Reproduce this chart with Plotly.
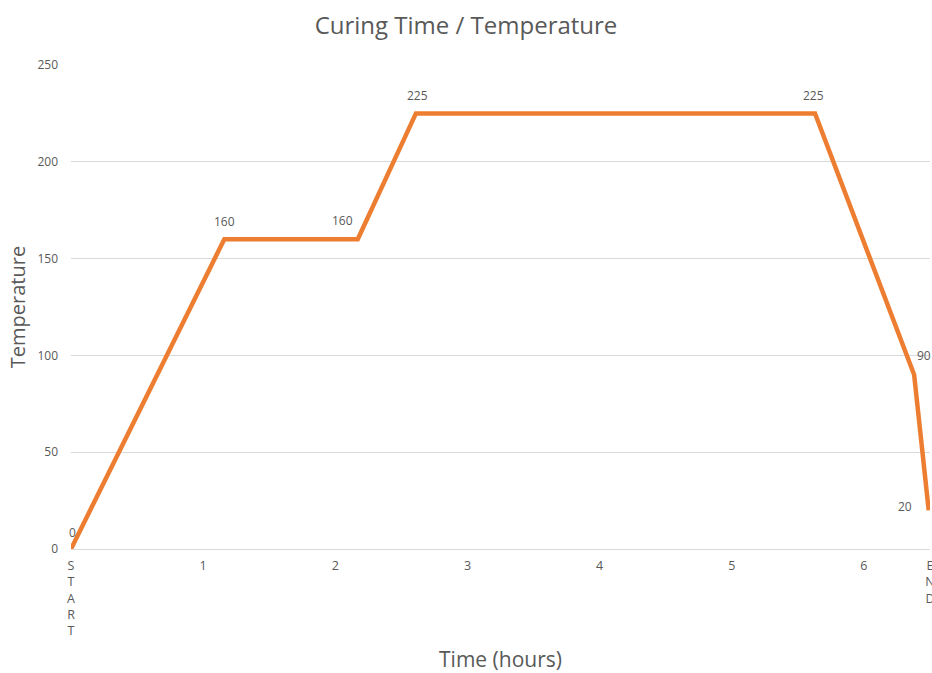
import plotly.graph_objects as go

# Data
time_hours = [0, 1.16, 2.17, 2.61, 5.63, 6.38, 6.49]
temperature = [0, 160, 160, 225, 225, 90, 20]
label_text = ["0", "160", "160", "225", "225", "90", "20"]
label_dx = [1, 0, -15, 2, -2, 10, -24]
label_dy = [17, 18, 19, 18, 18, 19, 4]

x_tick_vals = [0, 1, 2, 3, 4, 5, 6, 6.5]
x_tick_text = ["S<br>T<br>A<br>R<br>T", "1", "2", "3", "4", "5", "6", "E<br>N<br>D"]
y_tick_vals = [0, 50, 100, 150, 200, 250]

FONT = "Open Sans"
GREY = "#595959"

fig = go.Figure()
fig.add_trace(go.Scatter(
    x=time_hours, y=temperature, mode="lines",
    line=dict(color="#ED7D31", width=4.5),
    hoverinfo="x+y", showlegend=False, cliponaxis=True,
))

for x, y, t, dx, dy in zip(time_hours, temperature, label_text, label_dx, label_dy):
    fig.add_annotation(x=x, y=y, text=t, showarrow=False, xshift=dx, yshift=dy,
                       font=dict(family=FONT, size=12, color=GREY))

fig.update_layout(
    width=932, height=673,
    margin=dict(l=71, r=2, t=65, b=124),
    paper_bgcolor="white", plot_bgcolor="white",
    font=dict(family=FONT, color=GREY),
    title=dict(text="Curing Time / Temperature", x=0.5, xanchor="center",
               y=1 - 26 / 673, yanchor="middle",
               font=dict(family=FONT, size=24, color=GREY)),
    xaxis=dict(range=[0, 6.5], tickmode="array", tickvals=x_tick_vals, ticktext=x_tick_text,
               automargin=False, ticklabelstandoff=5,
               showgrid=False, zeroline=False, showline=True, linecolor="#d9d9d9", linewidth=1,
               ticks="", ticklabeloverflow="allow", tickfont=dict(family=FONT, size=12.5, color=GREY),
               title=dict(text="Time (hours)", font=dict(family=FONT, size=21, color=GREY), standoff=24)),
    yaxis=dict(range=[0, 250], tickmode="array", tickvals=y_tick_vals,
               automargin=False,
               showgrid=True, gridcolor="#d9d9d9", gridwidth=1, zeroline=False, showline=False,
               ticks="", ticklabelstandoff=12, tickfont=dict(family=FONT, size=12, color=GREY),
               title=dict(text="Temperature", font=dict(family=FONT, size=20, color=GREY), standoff=6)),
)

fig.write_html("out.html", config={"displayModeBar": False},
               post_script="document.body.style.margin='0';document.body.style.overflow='hidden';")
